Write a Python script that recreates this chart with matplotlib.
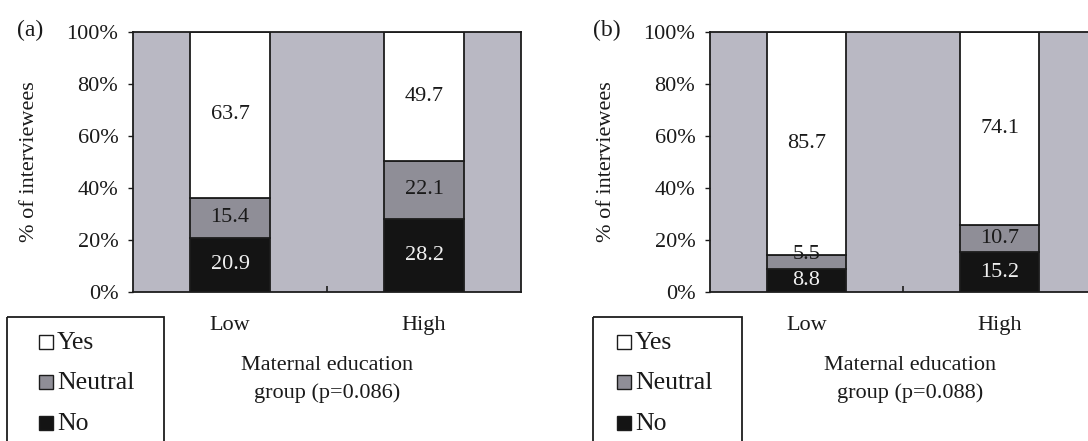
import matplotlib
matplotlib.use("Agg")
import matplotlib.pyplot as plt
from matplotlib.patches import Rectangle
from matplotlib.ticker import PercentFormatter
import numpy as np

plt.rcParams["font.family"] = ["Liberation Serif", "DejaVu Serif"]

# Data: share of interviewees (%) per maternal education group
groups = ["Low", "High"]
panel_a_no = [20.9, 28.2]
panel_a_neutral = [15.4, 22.1]
panel_a_yes = [63.7, 49.7]
panel_b_no = [8.8, 15.2]
panel_b_neutral = [5.5, 10.7]
panel_b_yes = [85.7, 74.1]
p_values = ["0.086", "0.088"]
panel_tags = ["(a)", "(b)"]
legend_labels = ["Yes", "Neutral", "No"]

W, H = 1088, 441
BG = "#b9b8c3"
GREY = "#8f8e97"
BLACK = "#141414"
EDGE = "#1c1c1c"
TXT = "#1a1a1a"
FS = 16

fig = plt.figure(figsize=(W / 100, H / 100), dpi=100)


def px_axes(left, right, top, bottom, **kw):
    return fig.add_axes([left / W, 1 - bottom / H, (right - left) / W, (bottom - top) / H], **kw)


def draw_panel(ax, no, neutral, yes, p, xlabel_x):
    ax.set_facecolor(BG)
    x = np.arange(len(groups))
    width = 0.41
    stacks = [(no, BLACK, "#f0f0f0"), (neutral, GREY, TXT), (yes, "white", TXT)]
    bottom = np.zeros(len(groups))
    for vals, fc, tc in stacks:
        vals = np.asarray(vals, dtype=float)
        ax.bar(x, vals, width, bottom=bottom, color=fc, edgecolor=EDGE,
               linewidth=1.3, zorder=2)
        for xi, b, v in zip(x, bottom, vals):
            y = b + v if v < 6 else b + v / 2
            ax.text(xi, y, f"{v:.1f}", ha="center", va="center", color=tc,
                    fontsize=FS, zorder=3)
        bottom += vals

    ax.set_xlim(-0.5, 1.5)
    ax.set_ylim(0, 100)
    ax.set_yticks(np.arange(0, 101, 20))
    ax.yaxis.set_major_formatter(PercentFormatter(xmax=100, decimals=0))
    ax.tick_params(axis="y", direction="out", length=3.6, width=1, pad=7,
                   labelsize=FS, colors=TXT)
    ax.set_xticks(x, groups)
    ax.tick_params(axis="x", which="major", length=0, pad=17.5, labelsize=FS,
                   colors=TXT)
    ax.set_xticks([0.5], minor=True)
    ax.tick_params(axis="x", which="minor", direction="in", length=4.3, width=1.2,
                   color=EDGE)
    for s in ax.spines.values():
        s.set_color(EDGE)
        s.set_linewidth(1.3)

    ax.set_xlabel(f"Maternal education\ngroup (p={p})", fontsize=FS,
                  linespacing=1.55, color=TXT)
    ax.xaxis.set_label_coords(xlabel_x, -0.245)
    ax.set_ylabel("% of interviewees", fontsize=FS, va="center", color=TXT)
    ax.yaxis.set_label_coords(-0.268, 0.5)


ax_a = px_axes(133, 521, 32, 292)
ax_b = px_axes(710, 1096, 32, 292)
draw_panel(ax_a, panel_a_no, panel_a_neutral, panel_a_yes, p_values[0], 0.5)
draw_panel(ax_b, panel_b_no, panel_b_neutral, panel_b_yes, p_values[1], 0.518)

fig.text(17 / W, 1 - 30 / H, panel_tags[0], fontsize=FS + 1, ha="left", va="center", color=TXT)
fig.text(593 / W, 1 - 30 / H, panel_tags[1], fontsize=FS + 1, ha="left", va="center", color=TXT)

# Legend boxes drawn in pixel space on a full-figure overlay
overlay = fig.add_axes([0, 0, 1, 1])
overlay.set_xlim(0, W)
overlay.set_ylim(H, 0)
overlay.axis("off")
legend_colors = ["white", GREY, BLACK]
legend_rows = [342, 382, 423]
for box_left, box_right, mark_left, text_left in [(7, 164, 39, 57), (593, 742, 617, 635)]:
    overlay.add_patch(Rectangle((box_left, 317), box_right - box_left, 200, fill=False,
                                edgecolor=EDGE, linewidth=1.3))
    for lab, col, cy in zip(legend_labels, legend_colors, legend_rows):
        overlay.add_patch(Rectangle((mark_left, cy - 7), 14, 14, facecolor=col,
                                    edgecolor=EDGE, linewidth=1.0))
        overlay.text(text_left, cy + 1, lab, fontsize=18.5, ha="left", va="center",
                     color=TXT)

fig.savefig("out.png", dpi=100, facecolor="white")
